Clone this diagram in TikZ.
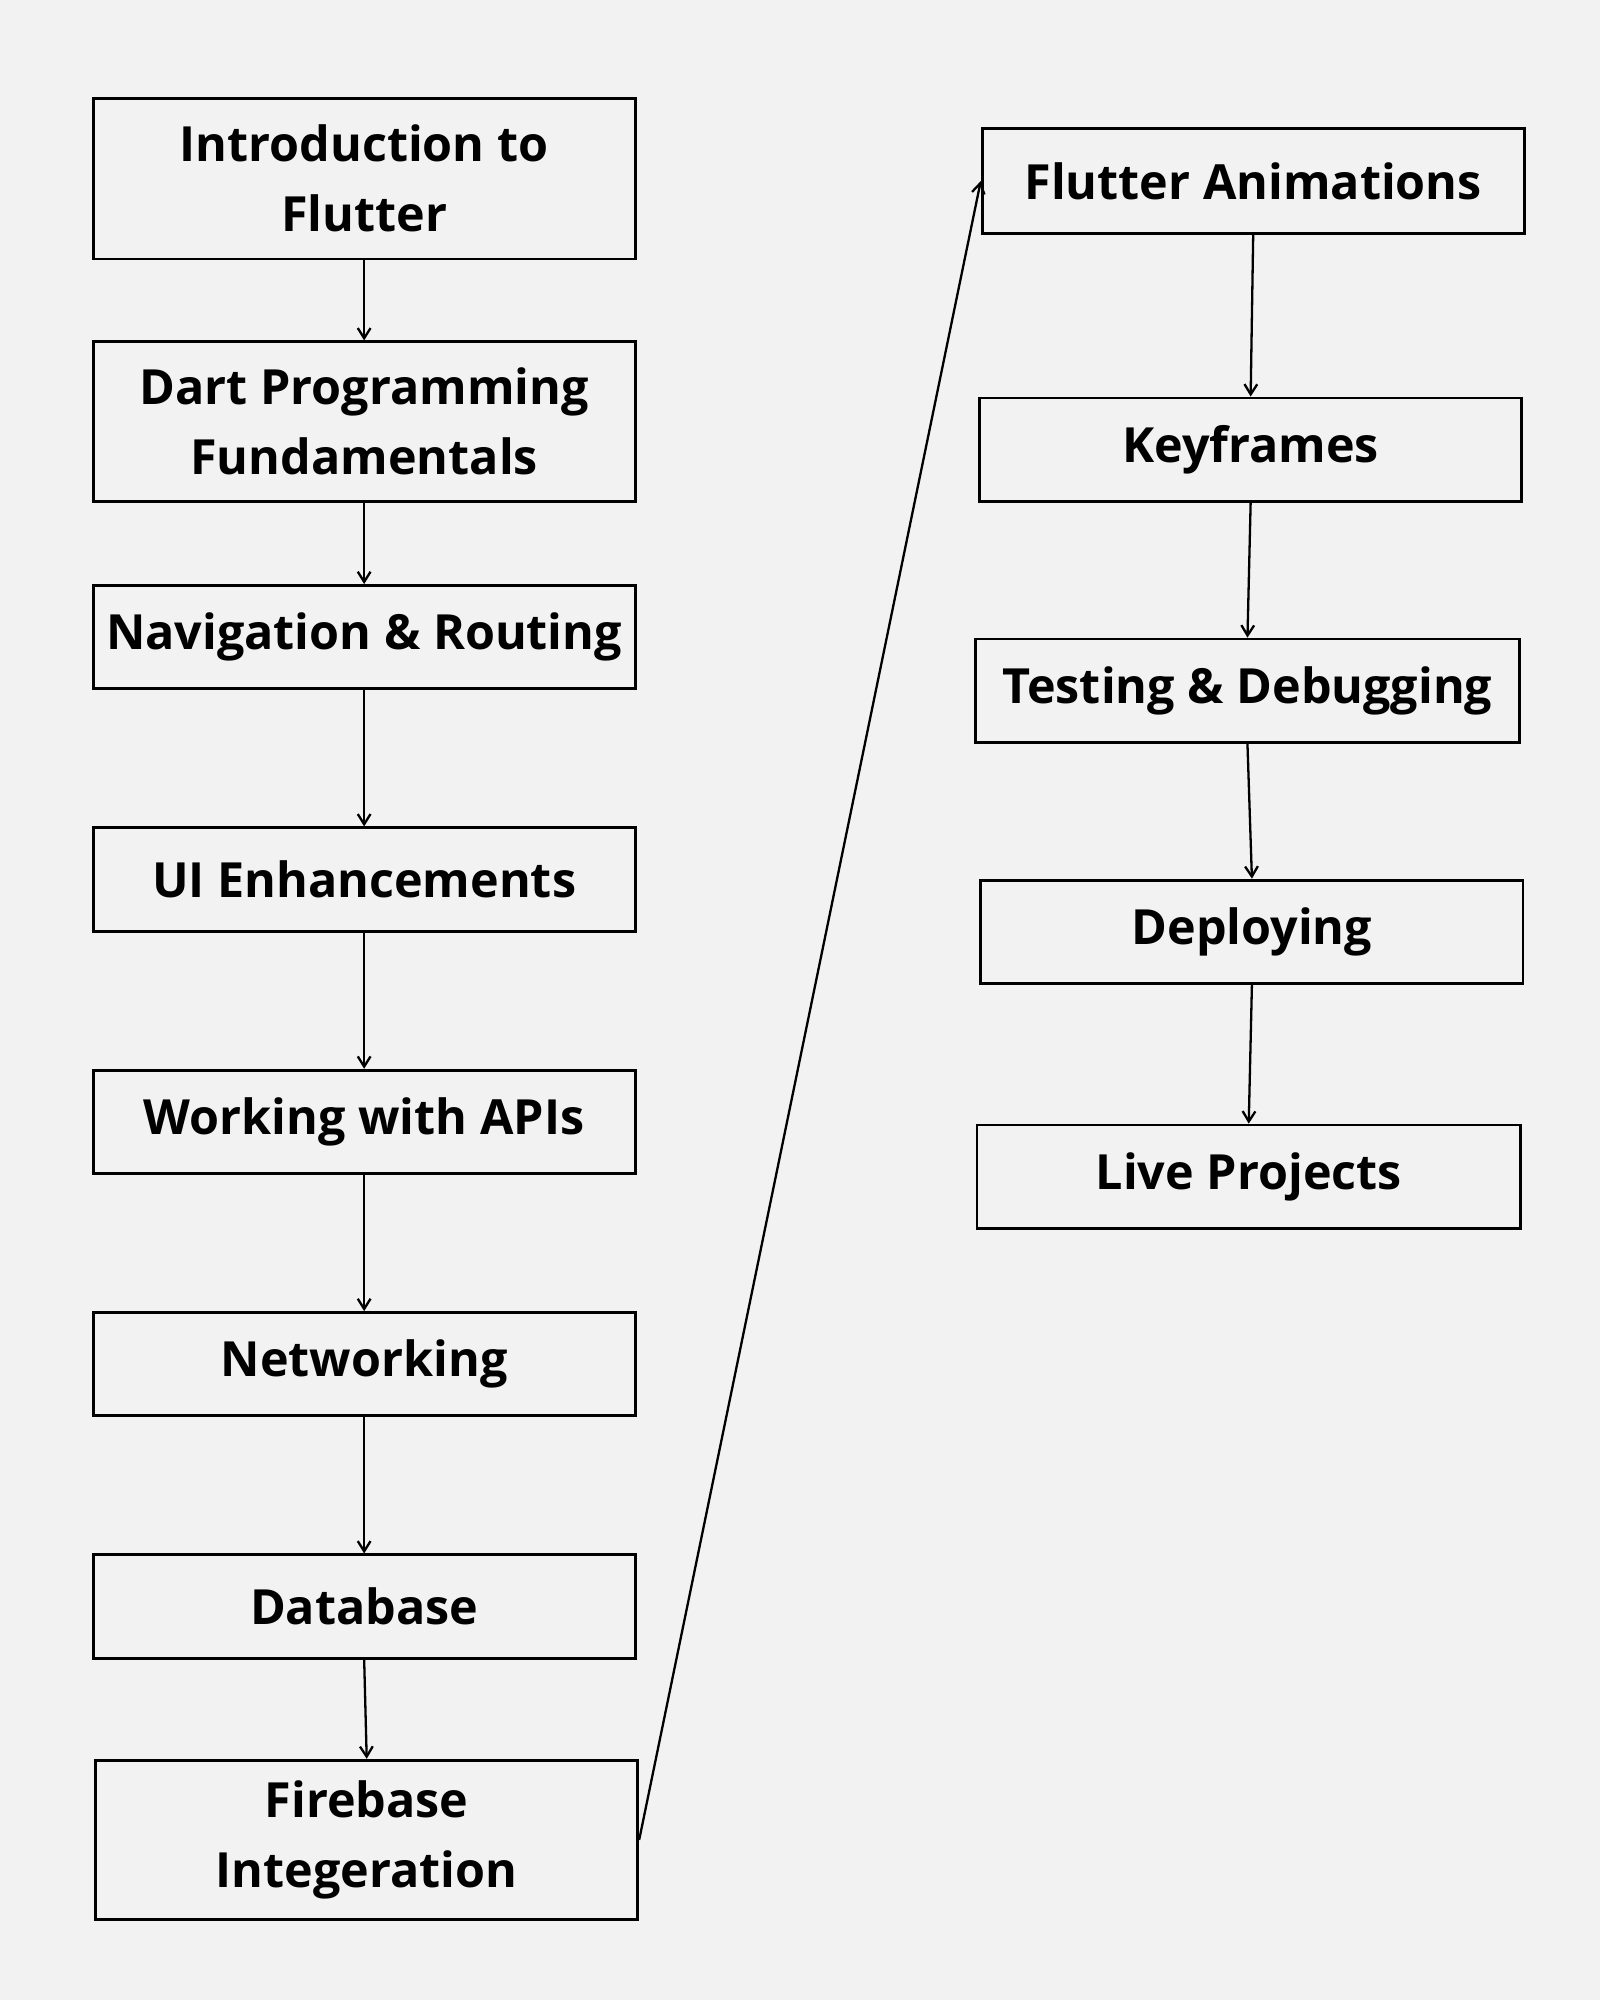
\documentclass[tikz,border=0pt]{standalone}
\usepackage{fontspec}
\setmainfont{Open Sans}
\usetikzlibrary{arrows.meta}
\definecolor{bg}{HTML}{F2F2F2}
\begin{document}
\begin{tikzpicture}[x=1pt,y=-1pt,
  box/.style={draw=black,line width=2.2pt,fill=bg,inner sep=0pt,align=center,font=\fontsize{38}{55}\selectfont\bfseries},
  arr/.style={draw=black,line width=1.8pt,-{Straight Barb[length=8pt,width=10pt]}}]
\fill[bg] (0,0) rectangle (1254,1568);
\useasboundingbox (0,0) rectangle (1254,1568);
\newcommand{\bx}[6]{\node[box,minimum width=#4-#2,minimum height=#5-#3] (#1) at ({(#2+#4)/2},{(#3+#5)/2}) {#6};}
\bx{a}{73}{77}{498}{203}{Introduction to\\Flutter}
\bx{b}{73}{268}{498}{393}{Dart Programming\\Fundamentals}
\bx{c}{73}{459}{498}{540}{Navigation \& Routing}
\bx{d}{73}{649}{498}{730}{UI Enhancements}
\bx{e}{73}{839}{498}{920}{Working with APIs}
\bx{f}{73}{1029}{498}{1110}{Networking}
\bx{g}{73}{1219}{498}{1300}{Database}
\bx{h}{75}{1380}{500}{1505}{Firebase\\Integeration}
\bx{r1}{770}{101}{1195}{183}{Flutter Animations}
\bx{r2}{768}{312}{1193}{393}{Keyframes}
\bx{r3}{765}{501}{1191}{582}{Testing \& Debugging}
\bx{r4}{769}{690}{1194}{771}{Deploying}
\bx{r5}{766}{882}{1192}{963}{Live Projects}
\foreach \p/\q in {a/b,b/c,c/d,d/e,e/f,f/g,g/h,r1/r2,r2/r3,r3/r4,r4/r5}
  \draw[arr] (\p.south) -- (\q.north);
\draw[arr] (h.east) -- (r1.west);
\end{tikzpicture}
\end{document}
